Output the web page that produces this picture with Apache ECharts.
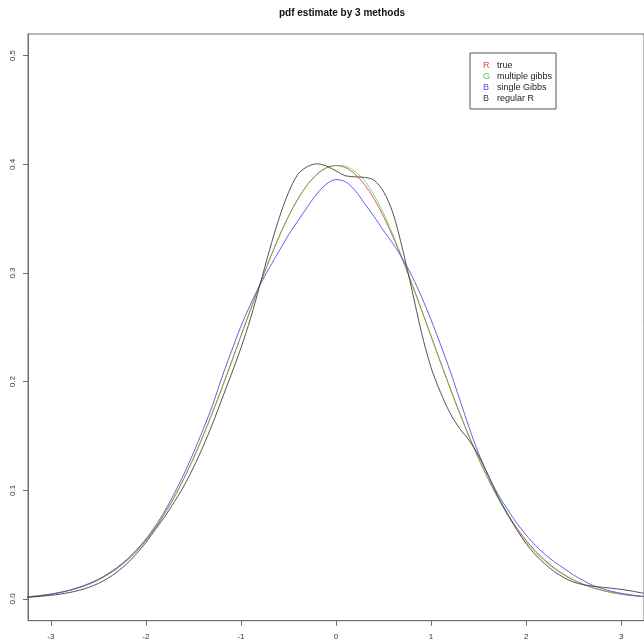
<!DOCTYPE html>
<html>
<head>
<meta charset="utf-8">
<script src="https://cdn.jsdelivr.net/npm/echarts@6/dist/echarts.min.js"></script>
<style>
html,body{margin:0;padding:0;background:#fff;}
#chart{width:644px;height:643px;}
</style>
</head>
<body>
<div id="chart"></div>
<script>
// ---- data ----
const xs = [-3.3,-3.2,-3.1,-3.0,-2.9,-2.8,-2.7,-2.6,-2.5,-2.4,-2.3,-2.2,-2.1,-2.0,-1.9,-1.8,-1.7,-1.6,-1.5,-1.4,-1.3,-1.2,-1.1,-1.0,-0.9,-0.8,-0.7,-0.6,-0.5,-0.4,-0.3,-0.2,-0.1,
  0.0,0.1,0.2,0.3,0.4,0.5,0.6,0.7,0.8,0.9,1.0,1.1,1.2,1.3,1.4,1.5,1.6,1.7,1.8,1.9,2.0,2.1,2.2,2.3,2.4,2.5,2.6,2.7,2.8,2.9,3.0,3.1,3.2,3.3];

const trueVals = [0.0017,0.0024,0.0033,0.0044,0.0060,0.0079,0.0104,0.0136,0.0175,0.0224,0.0283,0.0355,0.0440,0.0540,0.0656,0.0790,0.0940,0.1109,0.1295,0.1497,0.1714,0.1942,0.2179,0.2420,0.2661,0.2897,0.3123,0.3332,0.3521,0.3683,0.3814,0.3910,0.3970,
  0.3989,0.3970,0.3910,0.3814,0.3683,0.3521,0.3332,0.3123,0.2897,0.2661,0.2420,0.2179,0.1942,0.1714,0.1497,0.1295,0.1109,0.0940,0.0790,0.0656,0.0540,0.0440,0.0355,0.0283,0.0224,0.0175,0.0136,0.0104,0.0079,0.0060,0.0044,0.0033,0.0024,0.0017];

const multipleGibbs = [0.0016,0.0023,0.0033,0.0046,0.0062,0.0082,0.0108,0.0139,0.0178,0.0226,0.0284,0.0354,0.0438,0.0537,0.0652,0.0786,0.0937,0.1107,0.1294,0.1497,0.1715,0.1944,0.2181,0.2422,0.2663,0.2899,0.3124,0.3333,0.3521,0.3682,0.3812,0.3907,0.3967,
  0.3990,0.3982,0.3935,0.3850,0.3718,0.3550,0.3350,0.3130,0.2897,0.2658,0.2417,0.2176,0.1939,0.1710,0.1493,0.1290,0.1103,0.0932,0.0778,0.0642,0.0525,0.0427,0.0345,0.0276,0.0219,0.0172,0.0134,0.0103,0.0079,0.0060,0.0045,0.0034,0.0025,0.0018];

const singleGibbs = [0.0012,0.0020,0.0030,0.0043,0.0060,0.0081,0.0108,0.0141,0.0182,0.0232,0.0292,0.0364,0.0450,0.0552,0.0672,0.0812,0.0972,0.1150,0.1345,0.1555,0.1780,0.2040,0.2280,0.2510,0.2710,0.2890,0.3050,0.3200,0.3350,0.3480,0.3610,0.3730,0.3820,
  0.3860,0.3840,0.3760,0.3640,0.3520,0.3390,0.3270,0.3130,0.2970,0.2780,0.2570,0.2340,0.2100,0.1840,0.1580,0.1340,0.1140,0.0970,0.0830,0.0700,0.0590,0.0490,0.0410,0.0340,0.0280,0.0220,0.0170,0.0125,0.0095,0.0070,0.0052,0.0038,0.0027,0.0019];

const regularR = [0.0013,0.0018,0.0025,0.0034,0.0045,0.0060,0.0080,0.0107,0.0143,0.0190,0.0250,0.0325,0.0415,0.0520,0.0640,0.0760,0.0895,0.1040,0.1210,0.1400,0.1610,0.1840,0.2070,0.2310,0.2580,0.2890,0.3210,0.3500,0.3740,0.3910,0.3980,0.4005,0.3985,
  0.3940,0.3895,0.3885,0.3880,0.3855,0.3750,0.3550,0.3220,0.2840,0.2450,0.2130,0.1900,0.1710,0.1570,0.1460,0.1320,0.1140,0.0950,0.0790,0.0640,0.0510,0.0405,0.0320,0.0250,0.0195,0.0155,0.0132,0.0118,0.0108,0.0099,0.0088,0.0075,0.0058,0.0045];

const seriesNames = ['true', 'multiple gibbs', 'single Gibbs', 'regular R'];
const legendLetters = ['R', 'G', 'B', 'B'];
const xTicks = [-3, -2, -1, 0, 1, 2, 3];
const yTicks = [0.0, 0.1, 0.2, 0.3, 0.4, 0.5];
const titleText = 'pdf estimate by 3 methods';

// ---- chart ----
const colors = ['#e84040', '#40d040', '#5050e8', '#404040'];
const richKeys = ['r', 'g', 'b', 'k'];
const valueSets = [trueVals, multipleGibbs, singleGibbs, regularR];
const FONT = '"Liberation Sans", Arial, Helvetica, sans-serif';

const chart = echarts.init(document.getElementById('chart'), null, {renderer: 'canvas'});

const rich = {};
richKeys.forEach((k, i) => {
  rich[k] = {color: colors[i], fontSize: 9, fontFamily: FONT, width: 14};
});

const option = {
  animation: false,
  backgroundColor: '#fff',
  title: {
    text: titleText,
    left: 337,
    top: 3,
    textAlign: 'center',
    textStyle: {fontSize: 10, fontWeight: 'bold', color: '#111', fontFamily: FONT}
  },
  grid: {
    left: 28, top: 34, width: 618, bottom: 22.3,
    show: true, borderColor: '#6f6f6f', borderWidth: 1,
    containLabel: false
  },
  legend: {
    orient: 'vertical',
    left: 470, top: 53,
    padding: [8, 4, 5, 8],
    itemGap: 1,
    itemWidth: 0, itemHeight: 0,
    icon: 'rect',
    borderColor: '#555', borderWidth: 1,
    selectedMode: false,
    data: seriesNames,
    formatter: name => {
      const i = seriesNames.indexOf(name);
      return '{' + richKeys[i] + '|' + legendLetters[i] + '}' + name;
    },
    textStyle: {fontSize: 9, color: '#222', fontFamily: FONT, lineHeight: 10, rich: rich}
  },
  xAxis: {
    type: 'value',
    min: -3.24, max: 3.24,
    axisLine: {show: true, onZero: false, lineStyle: {color: '#6f6f6f', width: 1}},
    axisTick: {show: true, length: 5, customValues: xTicks, lineStyle: {color: '#6f6f6f'}},
    axisLabel: {customValues: xTicks, margin: 12, fontSize: 8, color: '#333', fontFamily: FONT,
      formatter: v => String(v)},
    splitLine: {show: false}
  },
  yAxis: {
    type: 'value',
    min: -0.02, max: 0.52,
    axisLine: {show: true, onZero: false, lineStyle: {color: '#6f6f6f', width: 1}},
    axisTick: {show: true, length: 5, customValues: yTicks, lineStyle: {color: '#6f6f6f'}},
    axisLabel: {customValues: yTicks, margin: 11, rotate: 90, fontSize: 8, color: '#333', fontFamily: FONT,
      formatter: v => v.toFixed(1)},
    splitLine: {show: false}
  },
  series: seriesNames.map((name, i) => ({
    name: name,
    type: 'line',
    data: xs.map((x, j) => [x, valueSets[i][j]]),
    showSymbol: false,
    symbol: 'none',
    smooth: 0.3,
    clip: true,
    lineStyle: {color: colors[i], width: 1, opacity: i === 1 ? 0.7 : 0.9},
    itemStyle: {color: colors[i]},
    emphasis: {disabled: true},
    z: 2 + i
  }))
};

chart.setOption(option);
</script>
</body>
</html>
